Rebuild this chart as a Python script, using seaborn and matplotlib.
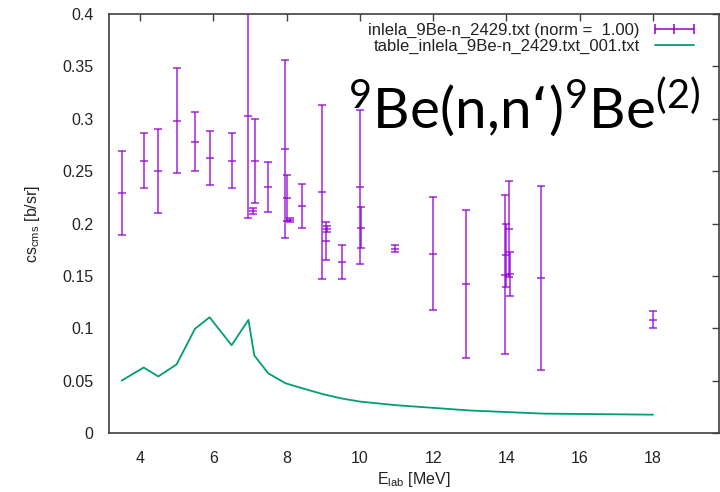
import numpy as np
import pandas as pd
import matplotlib
matplotlib.use("Agg")
import matplotlib.pyplot as plt
from matplotlib.lines import Line2D
import seaborn as sns

# Measured cross sections: lab energy [MeV], value [b/sr], error [b/sr]
energy = [3.5, 4.1, 4.5, 5.0, 5.5, 5.9, 6.5, 6.96, 7.09, 7.15, 7.5, 7.97, 8.0,
          8.09, 8.41, 8.98, 9.07, 9.1, 9.5, 10.0, 10.02, 10.95, 12.0, 12.9,
          13.95, 13.98, 14.07, 14.1, 14.95, 18.0]
cs = [0.229, 0.260, 0.250, 0.298, 0.278, 0.2625, 0.260, 0.303, 0.212, 0.260,
      0.235, 0.271, 0.224, 0.2035, 0.217, 0.230, 0.1835, 0.195, 0.163, 0.2345,
      0.196, 0.176, 0.171, 0.1425, 0.151, 0.1695, 0.1945, 0.152, 0.148, 0.108]
cs_err = [0.040, 0.026, 0.040, 0.050, 0.028, 0.026, 0.026, 0.098, 0.003, 0.040,
          0.024, 0.085, 0.022, 0.002, 0.021, 0.083, 0.018, 0.003, 0.016, 0.0735,
          0.0195, 0.003, 0.054, 0.0705, 0.076, 0.030, 0.046, 0.021, 0.0875, 0.008]

# Evaluated table
table_energy = [3.5, 4.1, 4.5, 5.0, 5.5, 5.9, 6.5, 6.96, 7.12, 7.5, 7.97, 8.4,
                9.0, 9.5, 10.0, 11.0, 12.0, 13.0, 14.0, 15.0, 18.0]
table_cs = [0.050, 0.0625, 0.054, 0.0655, 0.0995, 0.1105, 0.0838, 0.108, 0.074,
            0.057, 0.0475, 0.043, 0.037, 0.033, 0.030, 0.0265, 0.024, 0.0215,
            0.020, 0.0185, 0.0175]

x_ticks = [4, 6, 8, 10, 12, 14, 16, 18]
y_ticks = [0, 0.05, 0.1, 0.15, 0.2, 0.25, 0.3, 0.35, 0.4]
y_tick_labels = ["0", "0.05", "0.1", "0.15", "0.2", "0.25", "0.3", "0.35", "0.4"]

data_label = "inlela_9Be-n_2429.txt (norm =  1.00)"
table_label = "table_inlela_9Be-n_2429.txt_001.txt"

PURPLE = "#9400d3"
GREEN = "#009e73"
FRAME = "#404040"
TEXT = "#222222"

sns.set_theme(style="white")
plt.rcParams["font.family"] = ["Liberation Sans", "DejaVu Sans"]

fig = plt.figure(figsize=(7.2, 4.92), dpi=100)
ax = fig.add_axes([109 / 720, 59 / 492, 610 / 720, 419 / 492])

meas = pd.DataFrame({"E": energy, "cs": cs, "err": cs_err})
table = pd.DataFrame({"E": table_energy, "cs": table_cs})

sns.lineplot(data=table, x="E", y="cs", ax=ax, color=GREEN, linewidth=1.3,
             legend=False, zorder=2)

ax.errorbar(meas["E"], meas["cs"], yerr=meas["err"], fmt="none",
            ecolor=PURPLE, elinewidth=1.1, capsize=3, capthick=1.1, alpha=0.85,
            zorder=3)
sns.scatterplot(data=meas, x="E", y="cs", ax=ax, marker="_", s=40,
                color=PURPLE, linewidth=1.1, alpha=0.85, legend=False, zorder=3)

ax.set_xlim(3.155, 19.8)
ax.set_ylim(0, 0.4)
ax.set_xticks(x_ticks)
ax.set_xticklabels([str(t) for t in x_ticks])
ax.set_yticks(y_ticks)
ax.set_yticklabels(y_tick_labels)
ax.tick_params(direction="in", length=5, width=1, color=FRAME,
               top=True, right=True, labelsize=11.5, labelcolor=TEXT)
ax.tick_params(axis="x", pad=13)
ax.tick_params(axis="y", pad=11)
for s in ax.spines.values():
    s.set_color(FRAME)
    s.set_linewidth(1.2)

ax.set_xlabel(r"E$_{\mathregular{lab}}$ [MeV]", fontsize=11.5, color=TEXT,
              labelpad=3)
ax.set_ylabel(r"cs$_{\mathregular{cms}}$ [b/sr]", fontsize=11.5, color=TEXT,
              labelpad=15)

handles = [
    Line2D([], [], color=PURPLE, linewidth=1.1, marker="|", markersize=7,
           markeredgewidth=1.1),
    Line2D([], [], color=GREEN, linewidth=1.3),
]
leg = ax.legend(handles, [data_label, table_label], loc="upper right",
                bbox_to_anchor=(0.978, 0.995), borderaxespad=0,
                frameon=False, fontsize=12, markerfirst=False, numpoints=3,
                handlelength=2.95, handletextpad=0.6, borderpad=0.4,
                labelspacing=0.05)
for t in leg.get_texts():
    t.set_color(TEXT)
    t.set_ha("right")

ax.text((348 - 109) / 610, (433 - 129) / 419,
        r"$\mathregular{^{9}}$Be(n,n‘)$\mathregular{^{9}}$Be$\mathregular{^{(2)}}$",
        transform=ax.transAxes, fontsize=40.8, family="Lato", color="black",
        ha="left", va="baseline")

fig.savefig("out.png", dpi=100)
